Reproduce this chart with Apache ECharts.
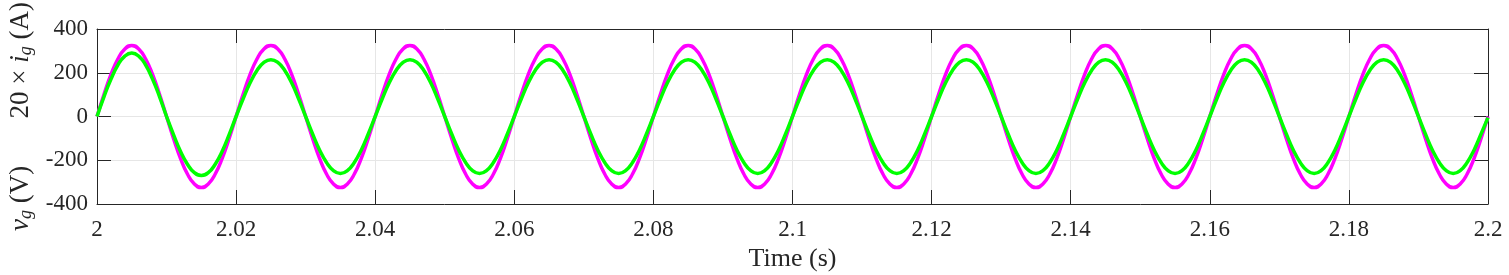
<!DOCTYPE html>
<html>
<head>
<meta charset="utf-8">
<script src="https://cdn.jsdelivr.net/npm/echarts@6/dist/echarts.min.js"></script>
<style>
html,body{margin:0;padding:0;background:#fff;}
#chart{width:1509px;height:275px;}
</style>
</head>
<body>
<div id="chart"></div>
<script>
// Sampling of the time axis (s)
const startTime = 2.0;
const sampleStep = 0.001;

// Tick values
const xTicks = [2, 2.02, 2.04, 2.06, 2.08, 2.1, 2.12, 2.14, 2.16, 2.18, 2.2];
const yTicks = [-400, -200, 0, 200, 400];

// v_g (V), magenta, one line per 20 ms cycle
const vgValues = [
  0, 100, 191, 263, 309, 325, 309, 263, 191, 100, 0, -100, -191, -263, -309, -325, -309, -263, -191, -100,
  0, 100, 191, 263, 309, 325, 309, 263, 191, 100, 0, -100, -191, -263, -309, -325, -309, -263, -191, -100,
  0, 100, 191, 263, 309, 325, 309, 263, 191, 100, 0, -100, -191, -263, -309, -325, -309, -263, -191, -100,
  0, 100, 191, 263, 309, 325, 309, 263, 191, 100, 0, -100, -191, -263, -309, -325, -309, -263, -191, -100,
  0, 100, 191, 263, 309, 325, 309, 263, 191, 100, 0, -100, -191, -263, -309, -325, -309, -263, -191, -100,
  0, 100, 191, 263, 309, 325, 309, 263, 191, 100, 0, -100, -191, -263, -309, -325, -309, -263, -191, -100,
  0, 100, 191, 263, 309, 325, 309, 263, 191, 100, 0, -100, -191, -263, -309, -325, -309, -263, -191, -100,
  0, 100, 191, 263, 309, 325, 309, 263, 191, 100, 0, -100, -191, -263, -309, -325, -309, -263, -191, -100,
  0, 100, 191, 263, 309, 325, 309, 263, 191, 100, 0, -100, -191, -263, -309, -325, -309, -263, -191, -100,
  0, 100, 191, 263, 309, 325, 309, 263, 191, 100, 0, -100, -191, -263, -309, -325, -309, -263, -191, -100,
  0
];

// 20 x i_g (A), green, one line per 20 ms cycle
const igValues = [
  0, 90, 170, 235, 276, 290, 276, 235, 170, 90, 0, -83, -159, -218, -257, -270, -257, -218, -159, -83,
  0, 80, 153, 210, 247, 260, 247, 210, 153, 80, 0, -80, -153, -210, -247, -260, -247, -210, -153, -80,
  0, 80, 153, 210, 247, 260, 247, 210, 153, 80, 0, -80, -153, -210, -247, -260, -247, -210, -153, -80,
  0, 80, 153, 210, 247, 260, 247, 210, 153, 80, 0, -80, -153, -210, -247, -260, -247, -210, -153, -80,
  0, 80, 153, 210, 247, 260, 247, 210, 153, 80, 0, -80, -153, -210, -247, -260, -247, -210, -153, -80,
  0, 80, 153, 210, 247, 260, 247, 210, 153, 80, 0, -80, -153, -210, -247, -260, -247, -210, -153, -80,
  0, 80, 153, 210, 247, 260, 247, 210, 153, 80, 0, -80, -153, -210, -247, -260, -247, -210, -153, -80,
  0, 80, 153, 210, 247, 260, 247, 210, 153, 80, 0, -80, -153, -210, -247, -260, -247, -210, -153, -80,
  0, 80, 153, 210, 247, 260, 247, 210, 153, 80, 0, -80, -153, -210, -247, -260, -247, -210, -153, -80,
  0, 80, 153, 210, 247, 260, 247, 210, 153, 80, 0, -80, -153, -210, -247, -260, -247, -210, -153, -80,
  -5
];

function toPairs(vals) {
  return vals.map((v, i) => [+(startTime + i * sampleStep).toFixed(4), v]);
}

const chart = echarts.init(document.getElementById('chart'), null, {renderer: 'canvas'});
const axisColor = '#262626';
const font = 'Liberation Serif';
const fmtX = v => String(parseFloat((+v).toFixed(2)));

const axisCommon = {
  axisLine: {show: true, onZero: false, lineStyle: {color: axisColor, width: 1}},
  axisTick: {show: true, inside: true, length: 14, lineStyle: {color: axisColor, width: 1}},
};

chart.setOption({
  animation: false,
  backgroundColor: '#ffffff',
  grid: {left: 97, right: 21, top: 29, bottom: 71, containLabel: false, outerBoundsMode: 'none'},
  xAxis: [
    Object.assign({
      type: 'value', position: 'bottom',
      min: xTicks[0], max: xTicks[xTicks.length - 1], interval: 0.02,
      name: 'Time (s)', nameLocation: 'middle', nameGap: 38,
      nameTextStyle: {fontFamily: font, fontSize: 26, color: axisColor},
      axisLabel: {fontFamily: font, fontSize: 23, color: axisColor, margin: 14, formatter: fmtX},
      splitLine: {show: true, lineStyle: {color: '#e6e6e6', width: 1}}
    }, axisCommon),
    Object.assign({
      type: 'value', position: 'top',
      min: xTicks[0], max: xTicks[xTicks.length - 1], interval: 0.02,
      axisLabel: {show: false}, splitLine: {show: false}
    }, axisCommon)
  ],
  yAxis: [
    Object.assign({
      type: 'value', position: 'left',
      min: yTicks[0], max: yTicks[yTicks.length - 1], interval: 200,
      name: '{it|v}{sub|g} (V)       20 × {it|i}{sub|g} (A)',
      nameLocation: 'middle', nameRotate: 90, nameGap: 57,
      nameTextStyle: {
        fontFamily: font, fontSize: 27, color: axisColor,
        rich: {
          it: {fontFamily: font, fontSize: 27, fontStyle: 'italic', color: axisColor},
          sub: {fontFamily: font, fontSize: 18, fontStyle: 'italic', color: axisColor, verticalAlign: 'bottom', padding: [11, 0, 0, 0]}
        }
      },
      axisLabel: {fontFamily: font, fontSize: 23, color: axisColor, margin: 9},
      splitLine: {show: true, lineStyle: {color: '#e6e6e6', width: 1}}
    }, axisCommon),
    Object.assign({
      type: 'value', position: 'right',
      min: yTicks[0], max: yTicks[yTicks.length - 1], interval: 200,
      axisLabel: {show: false}, splitLine: {show: false}
    }, axisCommon)
  ],
  series: [
    {
      name: 'vg', type: 'line', xAxisIndex: 0, yAxisIndex: 0,
      data: toPairs(vgValues), smooth: true, showSymbol: false,
      lineStyle: {color: '#ff00ff', width: 3.5}, z: 2
    },
    {
      name: 'ig', type: 'line', xAxisIndex: 0, yAxisIndex: 0,
      data: toPairs(igValues), smooth: true, showSymbol: false,
      lineStyle: {color: '#00ff00', width: 3.5}, z: 3
    }
  ]
});
</script>
</body>
</html>
